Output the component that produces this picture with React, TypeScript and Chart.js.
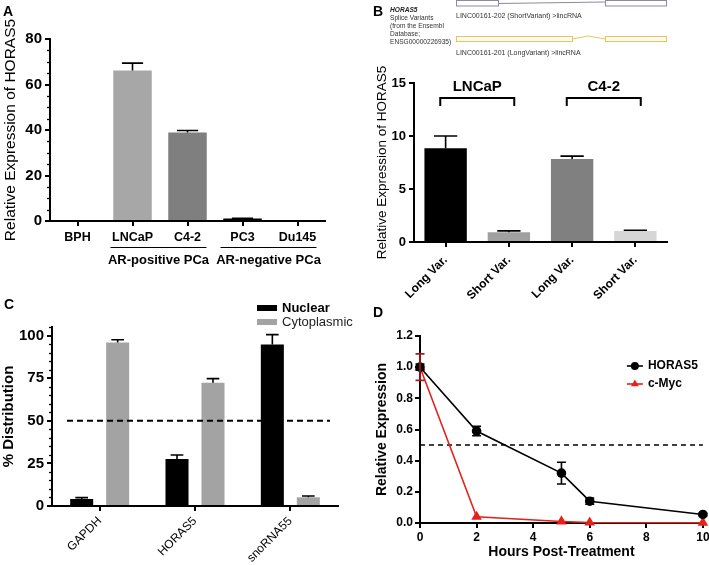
import React, { useEffect, useRef } from 'react';
import { Chart, registerables } from 'chart.js';

Chart.register(...registerables);

const FONT = "'Liberation Sans', Arial, Helvetica, sans-serif";
Chart.defaults.font.family = FONT;
Chart.defaults.color = '#000';

// ---------- Panel A ----------
const aCategories = ['BPH', 'LNCaP', 'C4-2', 'PC3', 'Du145'];
const aValues = [0, 66.2, 38.9, 1.1, 0];
const aErrors = [0, 3.2, 0.9, 0.1, 0];
const aColors = ['#000000', '#a7a7a7', '#7f7f7f', '#000000', '#000000'];
const aGroupLabels = ['AR-positive PCa', 'AR-negative PCa'];
const aGroupStart = [1, 3];
const aGroupEnd = [2, 4];
const aYMax = 80;
const aYStep = 20;
const aYMinor = 5;

// ---------- Panel B ----------
const bCategories = ['Long Var.', 'Short Var.', 'Long Var.', 'Short Var.'];
const bValues = [8.85, 0.93, 7.83, 1.03];
const bErrors = [1.15, 0.12, 0.27, 0.08];
const bColors = ['#000000', '#a0a0a0', '#808080', '#d6d6d6'];
const bBracketLabels = ['LNCaP', 'C4-2'];
const bBracketStart = [0, 2];
const bBracketEnd = [1, 3];
const bYMax = 15;
const bYStep = 5;

// ---------- Panel C ----------
const cCategories = ['GAPDH', 'HORAS5', 'snoRNA55'];
const cNuclear = [4.1, 27.5, 94.7];
const cNuclearErr = [0.8, 2.4, 5.8];
const cCytoplasmic = [95.9, 72.3, 5.1];
const cCytoplasmicErr = [1.6, 2.4, 0.8];
const cSeriesNames = ['Nuclear', 'Cytoplasmic'];
const cYMax = 105;
const cYStep = 25;
const cYMinor = 5;
const cThreshold = 50;

// ---------- Panel D ----------
const dHours = [0, 2, 5, 6, 10];
const dHoras5 = [1.0, 0.59, 0.32, 0.14, 0.055];
const dHoras5Err = [0.02, 0.03, 0.07, 0.02, 0.008];
const dMyc = [1.0, 0.04, 0.01, 0.003, 0.002];
const dMycErr = [0.085, 0, 0, 0, 0];
const dSeriesNames = ['HORAS5', 'c-Myc'];
const dXMax = 10;
const dXStep = 2;
const dYMax = 1.2;
const dYStep = 0.2;
const dThreshold = 0.5;

const RED = '#e3221c';

// ---------- shared plugins ----------
const errorBarPlugin = {
  id: 'errorBars',
  afterDatasetsDraw(chart: any) {
    const ctx = chart.ctx;
    chart.data.datasets.forEach((ds: any, i: number) => {
      if (!ds.errors) return;
      const meta = chart.getDatasetMeta(i);
      const yScale = chart.scales[meta.yAxisID];
      ctx.save();
      ctx.strokeStyle = ds.errColor || '#000';
      ctx.lineWidth = ds.errWidth || 1.6;
      meta.data.forEach((el: any, j: number) => {
        const err = ds.errors[j];
        if (!err) return;
        const raw = ds.data[j];
        const v = typeof raw === 'number' ? raw : raw.y;
        const x = el.x;
        const yTop = yScale.getPixelForValue(v + err);
        const yBot = ds.errBoth ? yScale.getPixelForValue(v - err) : el.y;
        const hw = ds.capRatio ? (el.width * ds.capRatio) / 2 : (ds.capWidth || 8) / 2;
        ctx.beginPath();
        ctx.moveTo(x, yBot);
        ctx.lineTo(x, yTop);
        ctx.moveTo(x - hw, yTop);
        ctx.lineTo(x + hw, yTop);
        if (ds.errBoth) {
          ctx.moveTo(x - hw, yBot);
          ctx.lineTo(x + hw, yBot);
        }
        ctx.stroke();
      });
      ctx.restore();
    });
  },
};

const minorTickPlugin = {
  id: 'minorTicks',
  afterDraw(chart: any, _args: any, opts: any) {
    if (!opts || !opts.step) return;
    const s = chart.scales.y;
    const ctx = chart.ctx;
    ctx.save();
    ctx.strokeStyle = '#000';
    ctx.lineWidth = 1.3;
    for (let k = 0; s.min + k * opts.step <= s.max + 1e-9; k++) {
      const v = s.min + k * opts.step;
      const r = v / opts.major;
      if (Math.abs(r - Math.round(r)) < 1e-6) continue;
      const y = Math.round(s.getPixelForValue(v)) + 0.5;
      ctx.beginPath();
      ctx.moveTo(chart.chartArea.left - opts.length, y);
      ctx.lineTo(chart.chartArea.left, y);
      ctx.stroke();
    }
    ctx.restore();
  },
};

const axisGrid = {
  display: true,
  drawOnChartArea: false,
  drawTicks: true,
  tickLength: 5,
  color: '#000',
  lineWidth: 2,
  offset: false,
};
const axisBorder = { display: true, color: '#000', width: 2 };

const fixWidth = (w: number) => (s: any) => {
  s.width = w;
  s.paddingTop = 0;
  s.paddingBottom = 0;
};
const fixHeight = (h: number) => (s: any) => {
  s.height = h;
  s.paddingLeft = 0;
  s.paddingRight = 0;
};

const baseOptions = (padding: any) => ({
  animation: false,
  responsive: false,
  events: [],
  layout: { padding },
});

// ---------- configs ----------
function makeA(): any {
  return {
    type: 'bar',
    data: {
      labels: aCategories,
      datasets: [
        {
          data: aValues,
          backgroundColor: aColors,
          errors: aErrors,
          capRatio: 0.55,
          barPercentage: 0.7,
          categoryPercentage: 1,
        },
      ],
    },
    options: {
      ...baseOptions({ left: 0, top: 39, right: 30, bottom: 0 }),
      plugins: {
        legend: { display: false },
        tooltip: { enabled: false },
        minorTicks: { step: aYMinor, major: aYStep, length: 3 },
      },
      scales: {
        x: {
          offset: true,
          grid: axisGrid,
          border: axisBorder,
          ticks: { font: { size: 12.5, weight: 'bold' }, padding: 4, maxRotation: 0, minRotation: 0, autoSkip: false },
          afterFit: fixHeight(64),
        },
        y: {
          min: 0,
          max: aYMax,
          grid: axisGrid,
          border: axisBorder,
          ticks: { stepSize: aYStep, font: { size: 15, weight: 'bold' }, padding: 3 },
          title: { display: true, text: 'Relative Expression of HORAS5', font: { size: 15.5 }, padding: { top: 1, bottom: 0 } },
          afterFit: fixWidth(50),
        },
      },
    },
    plugins: [
      errorBarPlugin,
      minorTickPlugin,
      {
        id: 'aGroups',
        afterDraw(chart: any) {
          const ctx = chart.ctx;
          const xs = chart.scales.x;
          const bottom = chart.chartArea.bottom;
          ctx.save();
          aGroupLabels.forEach((label, i) => {
            const x1 = xs.getPixelForTick(aGroupStart[i]) - 22;
            const x2 = xs.getPixelForTick(aGroupEnd[i]) + 19;
            ctx.strokeStyle = '#000';
            ctx.lineWidth = 1.2;
            ctx.beginPath();
            ctx.moveTo(x1, bottom + 26.5);
            ctx.lineTo(x2, bottom + 26.5);
            ctx.stroke();
            ctx.font = `bold 13px ${FONT}`;
            ctx.textAlign = 'center';
            ctx.textBaseline = 'middle';
            ctx.fillStyle = '#000';
            ctx.fillText(label, (x1 + x2) / 2, bottom + 39);
          });
          ctx.restore();
        },
      },
    ],
  };
}

function makeB(): any {
  return {
    type: 'bar',
    data: {
      labels: bCategories,
      datasets: [
        {
          data: bValues,
          backgroundColor: bColors,
          errors: bErrors,
          capRatio: 0.55,
          barPercentage: 0.67,
          categoryPercentage: 1,
        },
      ],
    },
    options: {
      ...baseOptions({ left: 0, top: 83, right: 42, bottom: 0 }),
      plugins: { legend: { display: false }, tooltip: { enabled: false } },
      scales: {
        x: {
          offset: true,
          grid: axisGrid,
          border: axisBorder,
          ticks: { font: { size: 12, weight: 'bold' }, padding: 6, maxRotation: 45, minRotation: 45, autoSkip: false },
          afterFit: fixHeight(63),
        },
        y: {
          min: 0,
          max: bYMax,
          grid: axisGrid,
          border: axisBorder,
          ticks: { stepSize: bYStep, font: { size: 13, weight: 'bold' }, padding: 3 },
          title: { display: true, text: 'Relative Expression of HORAS5', font: { size: 13.5 }, padding: { top: 19, bottom: 0 } },
          afterFit: fixWidth(59),
        },
      },
    },
    plugins: [
      errorBarPlugin,
      {
        id: 'bBrackets',
        afterDraw(chart: any) {
          const ctx = chart.ctx;
          const xs = chart.scales.x;
          const top = chart.chartArea.top;
          ctx.save();
          bBracketLabels.forEach((label, i) => {
            const mid = (xs.getPixelForTick(bBracketStart[i]) + xs.getPixelForTick(bBracketEnd[i])) / 2;
            const x1 = mid - 37;
            const x2 = mid + 37;
            ctx.strokeStyle = '#000';
            ctx.lineWidth = 2;
            ctx.beginPath();
            ctx.moveTo(x1, top + 23);
            ctx.lineTo(x1, top + 15);
            ctx.lineTo(x2, top + 15);
            ctx.lineTo(x2, top + 23);
            ctx.stroke();
            ctx.font = `bold 15px ${FONT}`;
            ctx.textAlign = 'center';
            ctx.textBaseline = 'middle';
            ctx.fillStyle = '#000';
            ctx.fillText(label, mid, top + 4);
          });
          ctx.restore();
        },
      },
    ],
  };
}

function makeC(): any {
  return {
    type: 'bar',
    data: {
      labels: cCategories,
      datasets: [
        {
          label: cSeriesNames[0],
          data: cNuclear,
          backgroundColor: '#000000',
          errors: cNuclearErr,
          capRatio: 0.55,
          barPercentage: 0.64,
          categoryPercentage: 0.755,
        },
        {
          label: cSeriesNames[1],
          data: cCytoplasmic,
          backgroundColor: '#a3a3a3',
          errors: cCytoplasmicErr,
          capRatio: 0.55,
          barPercentage: 0.64,
          categoryPercentage: 0.755,
        },
      ],
    },
    options: {
      ...baseOptions({ left: 0, top: 42, right: 17, bottom: 0 }),
      plugins: {
        legend: { display: false },
        tooltip: { enabled: false },
        minorTicks: { step: cYMinor, major: cYStep, length: 3 },
      },
      scales: {
        x: {
          offset: true,
          grid: axisGrid,
          border: axisBorder,
          ticks: { font: { size: 12 }, padding: 3, maxRotation: 45, minRotation: 45, autoSkip: false },
          afterFit: fixHeight(59),
        },
        y: {
          min: 0,
          max: cYMax,
          grid: axisGrid,
          border: axisBorder,
          ticks: { stepSize: cYStep, includeBounds: false, font: { size: 15, weight: 'bold' }, padding: 3 },
          title: { display: true, text: '% Distribution', font: { size: 15, weight: 'bold' }, padding: { top: 0, bottom: 0 } },
          afterFit: fixWidth(52),
        },
      },
    },
    plugins: [
      errorBarPlugin,
      minorTickPlugin,
      {
        id: 'cExtras',
        afterDraw(chart: any) {
          const ctx = chart.ctx;
          const { left, right, top } = chart.chartArea;
          const y = chart.scales.y.getPixelForValue(cThreshold);
          ctx.save();
          ctx.strokeStyle = '#000';
          ctx.lineWidth = 2;
          ctx.setLineDash([6, 4]);
          ctx.beginPath();
          ctx.moveTo(left + 15, y);
          ctx.lineTo(right - 8, y);
          ctx.stroke();
          ctx.setLineDash([]);
          chart.data.datasets.forEach((ds: any, i: number) => {
            const ly = top - 19 + i * 14;
            ctx.fillStyle = ds.backgroundColor;
            ctx.fillRect(right - 81, ly - 3, 20, 6);
            ctx.font = `${i === 0 ? 'bold ' : ''}13px ${FONT}`;
            ctx.textAlign = 'left';
            ctx.textBaseline = 'middle';
            ctx.fillStyle = i === 0 ? '#000' : '#222';
            ctx.fillText(ds.label, right - 56, ly);
          });
          ctx.restore();
        },
      },
    ],
  };
}

function drawMarker(ctx: any, style: string, x: number, y: number, r: number, color: string) {
  ctx.fillStyle = color;
  ctx.beginPath();
  if (style === 'triangle') {
    ctx.moveTo(x, y - r);
    ctx.lineTo(x + r * 0.866, y + r * 0.5);
    ctx.lineTo(x - r * 0.866, y + r * 0.5);
    ctx.closePath();
  } else {
    ctx.arc(x, y, r, 0, Math.PI * 2);
  }
  ctx.fill();
}

function makeD(): any {
  const styles = ['circle', 'triangle'];
  const colors = ['#000000', RED];
  return {
    type: 'line',
    data: {
      datasets: [
        {
          label: dSeriesNames[0],
          data: dHours.map((h, i) => ({ x: h, y: dHoras5[i] })),
          borderColor: colors[0],
          backgroundColor: colors[0],
          pointBackgroundColor: colors[0],
          pointBorderColor: colors[0],
          pointStyle: styles[0],
          pointRadius: 4,
          borderWidth: 1.6,
          clip: false,
          errors: dHoras5Err,
          errBoth: true,
          capWidth: 9,
          errColor: colors[0],
        },
        {
          label: dSeriesNames[1],
          data: dHours.map((h, i) => ({ x: h, y: dMyc[i] })),
          borderColor: colors[1],
          backgroundColor: colors[1],
          pointBackgroundColor: colors[1],
          pointBorderColor: colors[1],
          pointStyle: styles[1],
          pointRadius: 4.5,
          borderWidth: 1.6,
          clip: false,
          errors: dMycErr,
          errBoth: true,
          capWidth: 9,
          errColor: '#b0141a',
        },
      ],
    },
    options: {
      ...baseOptions({ left: 0, top: 51, right: 6, bottom: 0 }),
      plugins: { legend: { display: false }, tooltip: { enabled: false } },
      scales: {
        x: {
          type: 'linear',
          min: 0,
          max: dXMax,
          grid: axisGrid,
          border: axisBorder,
          ticks: { stepSize: dXStep, font: { size: 12, weight: 'bold' }, padding: 2, maxRotation: 0 },
          title: { display: true, text: 'Hours Post-Treatment', font: { size: 14, weight: 'bold' }, padding: { top: 0, bottom: 4 } },
          afterFit: fixHeight(42),
        },
        y: {
          min: 0,
          max: dYMax,
          grid: axisGrid,
          border: axisBorder,
          ticks: { stepSize: dYStep, font: { size: 12, weight: 'bold' }, padding: 2, callback: (v: any) => Number(v).toFixed(1) },
          title: { display: true, text: 'Relative Expression', font: { size: 14, weight: 'bold' }, padding: { top: 18.5, bottom: 0 } },
          afterFit: fixWidth(65),
        },
      },
    },
    plugins: [
      {
        id: 'dExtras',
        beforeDatasetsDraw(chart: any) {
          const ctx = chart.ctx;
          const { left, right } = chart.chartArea;
          const y = chart.scales.y.getPixelForValue(dThreshold);
          ctx.save();
          ctx.strokeStyle = '#000';
          ctx.lineWidth = 1.5;
          ctx.setLineDash([5, 4]);
          ctx.beginPath();
          ctx.moveTo(left, y);
          ctx.lineTo(right, y);
          ctx.stroke();
          ctx.restore();
        },
        afterDraw(chart: any) {
          const ctx = chart.ctx;
          const { right, top } = chart.chartArea;
          ctx.save();
          dSeriesNames.forEach((name, i) => {
            const ly = top + 30 + i * 18;
            ctx.strokeStyle = colors[i];
            ctx.lineWidth = 1.6;
            ctx.beginPath();
            ctx.moveTo(right - 76, ly);
            ctx.lineTo(right - 60, ly);
            ctx.stroke();
            drawMarker(ctx, styles[i], right - 68, ly, i === 0 ? 4 : 4.5, colors[i]);
            ctx.font = `bold 12px ${FONT}`;
            ctx.textAlign = 'left';
            ctx.textBaseline = 'middle';
            ctx.fillStyle = '#000';
            ctx.fillText(name, right - 55, ly);
          });
          ctx.restore();
        },
      },
      errorBarPlugin,
    ],
  };
}

function ChartCanvas({ left, top, width, height, make }: any) {
  const ref = useRef<HTMLCanvasElement>(null);
  useEffect(() => {
    const chart = new Chart(ref.current as HTMLCanvasElement, make());
    return () => chart.destroy();
  }, []);
  return (
    <canvas
      ref={ref}
      width={width}
      height={height}
      style={{ position: 'absolute', left, top, width, height }}
    />
  );
}

function Overlay() {
  const small = { fontFamily: FONT, fontSize: 7, fill: '#333' } as any;
  const block = { fontFamily: FONT, fontSize: 6.6, fill: '#333' } as any;
  const letter = { fontFamily: FONT, fontSize: 14, fontWeight: 'bold', fill: '#000' } as any;
  const purple = '#8f87a3';
  const yellow = '#efc15a';
  return (
    <svg
      width={709}
      height={565}
      style={{ position: 'absolute', left: 0, top: 0, pointerEvents: 'none' }}
    >
      <text x={3} y={16} style={letter}>A</text>
      <text x={373} y={16} style={letter}>B</text>
      <text x={4} y={309} style={letter}>C</text>
      <text x={373} y={317} style={letter}>D</text>

      <text x={390} y={12} style={{ ...block, fontWeight: 'bold', fontStyle: 'italic', fill: '#222' }}>HORAS5</text>
      <text x={390} y={19.5} style={block}>Splice Variants</text>
      <text x={390} y={27.5} style={block}>(from the Ensembl</text>
      <text x={390} y={35.5} style={block}>Database;</text>
      <text x={390} y={43.5} style={block}>ENSG00000226935)</text>

      <rect x={456.5} y={0.5} width={42} height={5.5} fill="#fff" stroke={purple} strokeWidth={1} />
      <polyline points="498.5,3.5 605,2" fill="none" stroke={purple} strokeWidth={1} />
      <rect x={605.5} y={0.5} width={61} height={5.5} fill="#fff" stroke={purple} strokeWidth={1} />
      <text x={456} y={17.5} style={small}>LINC00161-202 (ShortVariant) &gt;lincRNA</text>

      <rect x={456.5} y={36.5} width={116} height={5} fill="#fffdf2" stroke={yellow} strokeWidth={1} />
      <polyline points="572.5,39 588,36 605.5,39" fill="none" stroke={yellow} strokeWidth={1} />
      <rect x={605.5} y={36.5} width={61} height={5} fill="#fffdf2" stroke={yellow} strokeWidth={1} />
      <text x={456} y={54.5} style={small}>LINC00161-201 (LongVariant) &gt;lincRNA</text>
    </svg>
  );
}

export default function App() {
  return (
    <div style={{ position: 'absolute', left: 0, top: 0, width: 709, height: 565, background: '#fff', overflow: 'hidden' }}>
      <ChartCanvas left={0} top={0} width={355} height={285} make={makeA} />
      <ChartCanvas left={355} top={0} width={354} height={305} make={makeB} />
      <ChartCanvas left={0} top={285} width={355} height={280} make={makeC} />
      <ChartCanvas left={355} top={285} width={354} height={280} make={makeD} />
      <Overlay />
    </div>
  );
}
